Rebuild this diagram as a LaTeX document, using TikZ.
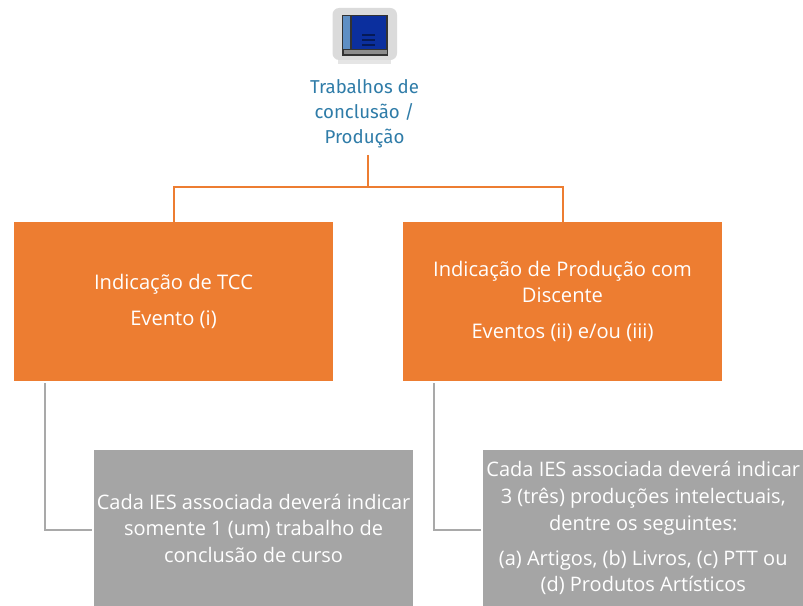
\documentclass[tikz,border=0pt]{standalone}
\usepackage{fontspec}
\setmainfont{Open Sans}
\newfontfamily\labfont{Fira Sans}
\definecolor{orangeb}{HTML}{ED7D31}
\definecolor{grayb}{HTML}{A5A5A5}
\definecolor{tealt}{HTML}{2F7CA8}
\definecolor{lineg}{HTML}{A9A9A9}
\definecolor{bookblue}{HTML}{0B2F9E}
\definecolor{spineblue}{HTML}{5F8FC4}
\tikzset{
  orangebox/.style={fill=orangeb,text=white,minimum width=239.25pt,minimum height=119.25pt,align=center,inner sep=0pt,font=\fontsize{15.1}{19.5}\selectfont},
  graybox/.style={fill=grayb,text=white,anchor=north west,minimum height=117pt,inner sep=0pt,align=center,font=\fontsize{15}{19.9}\selectfont},
  orangeline/.style={draw=orangeb,line width=1.5pt},
  grayline/.style={draw=lineg,line width=1.4pt},
}
\begin{document}
\begin{tikzpicture}[x=0.75pt,y=-0.75pt]
\useasboundingbox (0,0) rectangle (803,606);
% icon
\fill[black!10] (338,58) rectangle (391,64);
\fill[black!14,rounded corners=5pt] (332.5,8) rectangle (397,60);
\fill[black!80] (342,15) rectangle (388,56);
\fill[bookblue] (352,16) rectangle (386,49);
\fill[spineblue] (343,16) rectangle (350,49);
\fill[black!45] (344,50) rectangle (387,54);
\foreach \yy in {35,40,45}{\draw[black!45!bookblue,line width=.9pt] (362,\yy) -- (375,\yy);}
\node[text=tealt,align=center,font=\labfont\fontsize{14}{18.9}\selectfont] (title) at (364.5,114) {Trabalhos de\\conclusão /\\Produção};
% boxes
\node[orangebox] (tcc) at (173.5,301.5) {Indicação de TCC\\[7.5pt]Evento (i)};
\node[orangebox] (prod) at (562.5,301.5) {\rule{0pt}{0pt}Indicação de Produção com\\Discente\\[7.5pt]Eventos (ii) e/ou (iii)};
\node[graybox,minimum width=239pt] (g1) at (94,450) {Cada IES associada deverá indicar\\somente 1 (um) trabalho de\\conclusão de curso};
\node[graybox,minimum width=240pt] (g2) at (483,450) {Cada IES associada deverá indicar\\3 (três) produções intelectuais,\\dentre os seguintes:\\[6.5pt](a) Artigos, (b) Livros, (c) PTT ou\\(d) Produtos Artísticos};
% connectors
\coordinate (top) at (368,155);
\coordinate (bar) at (368,187);
\draw[orangeline] (top) -- (bar);
\draw[orangeline] (tcc.north) -- (173.5,187) -- (562.5,187) -- (prod.north);
\coordinate (c1) at (45,383);
\coordinate (c2) at (434,383);
\coordinate (e1) at (92,530);
\coordinate (e2) at (481,530);
\draw[grayline] (c1) -- (45,530) -- (e1);
\draw[grayline] (c2) -- (434,530) -- (e2);
\end{tikzpicture}
\end{document}
